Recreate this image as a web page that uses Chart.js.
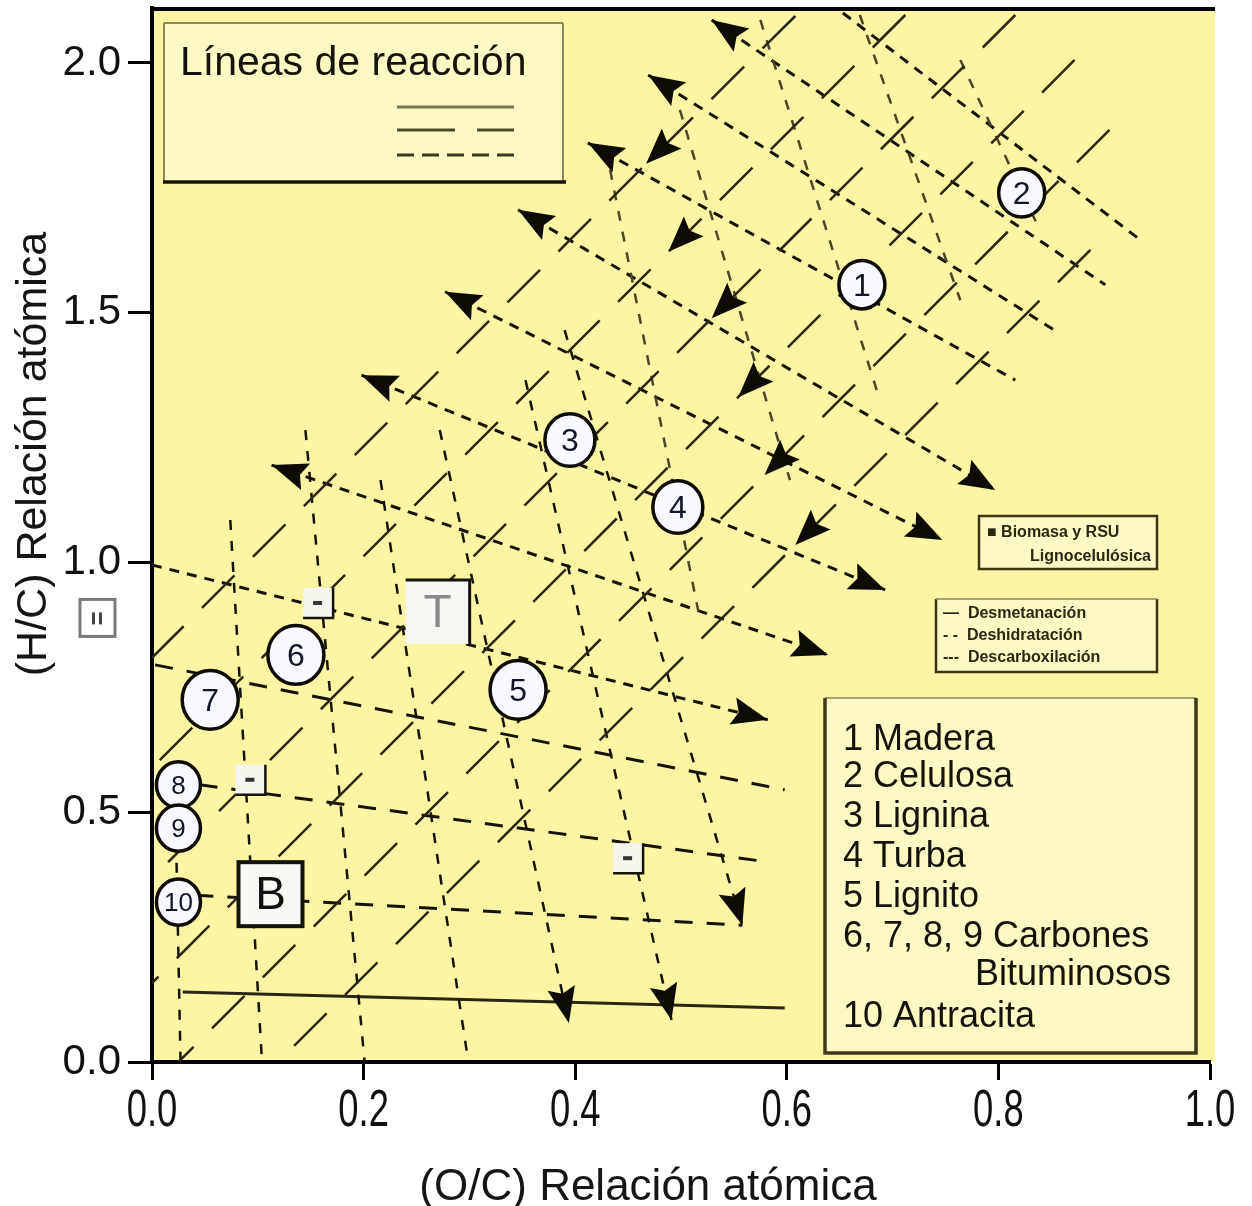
<!DOCTYPE html>
<html>
<head>
<meta charset="utf-8">
<script src="https://cdn.jsdelivr.net/npm/chart.js@4.4.1/dist/chart.umd.min.js"></script>
<style>
  html, body { margin: 0; padding: 0; background: #ffffff; }
  canvas { display: block; }
</style>
</head>
<body>
<canvas id="vk" width="1252" height="1206"></canvas>
<script>
// ── Axis ticks ──
const xTicks = [0, 0.2, 0.4, 0.6, 0.8, 1.0];
const yTicks = [0, 0.5, 1.0, 1.5, 2.0];

// ── Short-dash reaction lines (down-right): [x0, y0, x1, y1] ──
const shortDashLines = [
  [0.653, 2.100, 0.934, 1.646],
  [0.529, 2.086, 0.901, 1.556],
  [0.469, 1.976, 0.853, 1.465],
  [0.412, 1.840, 0.816, 1.365],
  [0.346, 1.706, 0.797, 1.145],
  [0.277, 1.542, 0.747, 1.045],
  [0.198, 1.375, 0.693, 0.945],
  [0.113, 1.195, 0.639, 0.815],
  [0.000, 0.995, 0.582, 0.685],
];
const shortDashArrows = ['none', 'start', 'start', 'start', 'both', 'both', 'both', 'both', 'end'];

// ── Long-dash lines (45°): [xTop, yTop, xArrow, yArrow, xLow, yLow] ──
const longDashLines = [
  [0.608, 2.094, 0.467, 1.798, 0.000, 0.809],
  [0.712, 2.096, 0.488, 1.622, 0.000, 0.589],
  [0.816, 2.096, 0.529, 1.489, 0.000, 0.368],
  [0.872, 2.006, 0.554, 1.331, 0.000, 0.158],
  [0.905, 1.866, 0.579, 1.175, 0.025, 0.000],
  [0.887, 1.626, 0.608, 1.035, 0.119, 0.000],
];

// ── Steep dashed lines: [x0, y0, x1, y1] ──
const steepLines = [
  [0.022, 0.525, 0.027, 0.000],
  [0.074, 1.085, 0.104, 0.000],
  [0.145, 1.265, 0.201, 0.000],
  [0.216, 1.165, 0.299, 0.000],
  [0.272, 1.265, 0.394, 0.078],
  [0.353, 1.365, 0.491, 0.084],
  [0.390, 1.465, 0.558, 0.274],
  [0.433, 1.786, 0.518, 0.885],
  [0.499, 1.906, 0.603, 1.165],
  [0.575, 2.086, 0.688, 1.325],
  [0.669, 2.096, 0.764, 1.525],
  [0.764, 2.006, 0.839, 1.666],
];
const steepArrows = ['none', 'none', 'none', 'none', 'end', 'end', 'end', 'none', 'none', 'none', 'none', 'none'];

// ── Flat lines in the coal region ──
const flatDashLines = [
  [0.003, 0.795, 0.598, 0.545],
  [0.045, 0.555, 0.584, 0.400],
  [0.041, 0.334, 0.558, 0.274],
];
const flatSolidLines = [
  [0.029, 0.140, 0.598, 0.108],
];

// ── Numbered samples ──
const sampleLabels = ['1', '2', '3', '4', '5', '6', '7', '8', '9', '10'];
const sampleX = [0.671, 0.822, 0.395, 0.497, 0.346, 0.136, 0.055, 0.025, 0.025, 0.025];
const sampleY = [1.556, 1.740, 1.245, 1.111, 0.745, 0.815, 0.725, 0.555, 0.468, 0.320];

// ── Boxed markers ──
const boxLabels = ['T', 'B'];
const boxX = [0.270, 0.112];
const boxY = [0.901, 0.336];
const markX = [0.157, 0.093, 0.450];
const markY = [0.919, 0.565, 0.408];

// ── Legend texts ──
const legendTitle = 'Líneas de reacción';
const legendSmall1 = ['■ Biomasa y RSU', 'Lignocelulósica'];
const legendSmall2 = ['—  Desmetanación', '- -  Deshidratación', '---  Descarboxilación'];
const materialNames = ['1 Madera', '2 Celulosa', '3 Lignina', '4 Turba', '5 Lignito',
  '6, 7, 8, 9 Carbones', 'Bituminosos', '10 Antracita'];

// ── Styles ──
const C = {
  plot: '#fcf5a4',
  boxFill: '#fdf9c2',
  ink: '#15140a',
  olive: '#6f6a3c',
  grey: '#8a8658',
};
const SANS = '"Liberation Sans", Arial, sans-serif';

const pts = arr => arr.map(([x, y]) => ({ x, y }));
function pairs(row) {
  const out = [];
  for (let i = 0; i < row.length; i += 2) out.push([row[i], row[i + 1]]);
  return out;
}
function lineSet(row, style, arrow) {
  return {
    data: pts(pairs(row)),
    showLine: true,
    pointRadius: 0,
    pointHoverRadius: 0,
    borderColor: style.color,
    borderWidth: style.width,
    borderDash: style.dash,
    fill: false,
    tension: 0,
    arrow: arrow || 'none',
  };
}

const datasets = [];
longDashLines.forEach(r => datasets.push(lineSet(r, { color: '#2a2812', width: 2.5, dash: [46, 26] }, 'mid')));
steepLines.forEach((r, i) => datasets.push(lineSet(r, { color: i > 6 ? '#4a4626' : C.ink, width: 2.5, dash: [10, 11] }, steepArrows[i])));
flatDashLines.forEach(r => datasets.push(lineSet(r, { color: C.ink, width: 3, dash: [18, 14] })));
flatSolidLines.forEach(r => datasets.push(lineSet(r, { color: '#2a2812', width: 3, dash: [] })));
shortDashLines.forEach((r, i) => datasets.push(lineSet(r, { color: C.ink, width: 3, dash: [10, 8] }, shortDashArrows[i])));

// ── Drawing helpers ──
function arrowHead(ctx, tx, ty, fx, fy) {
  const a = Math.atan2(ty - fy, tx - fx);
  ctx.save();
  ctx.translate(tx, ty);
  ctx.rotate(a);
  ctx.fillStyle = '#0d0c04';
  ctx.beginPath();
  ctx.moveTo(0, 0);
  ctx.lineTo(-36, -14);
  ctx.lineTo(-30, 0);
  ctx.lineTo(-36, 14);
  ctx.closePath();
  ctx.fill();
  ctx.restore();
}
function noPad(s) {
  s.paddingTop = 0; s.paddingBottom = 0; s.paddingLeft = 0; s.paddingRight = 0;
}

const vkPlugin = {
  id: 'vk',
  beforeDraw(chart) {
    const { ctx, chartArea: a } = chart;
    ctx.save();
    ctx.fillStyle = C.plot;
    ctx.fillRect(a.left, a.top, a.right - a.left + 5, a.bottom - a.top);
    ctx.restore();
  },
  afterDatasetsDraw(chart) {
    const { ctx } = chart;
    const xs = chart.scales.x, ys = chart.scales.y;
    const px = v => xs.getPixelForValue(v);
    const py = v => ys.getPixelForValue(v);

    // arrowheads
    chart.data.datasets.forEach((ds, i) => {
      const p = chart.getDatasetMeta(i).data;
      if (ds.arrow === 'start' || ds.arrow === 'both') arrowHead(ctx, p[0].x, p[0].y, p[1].x, p[1].y);
      if (ds.arrow === 'end' || ds.arrow === 'both') {
        const n = p.length;
        arrowHead(ctx, p[n - 1].x, p[n - 1].y, p[n - 2].x, p[n - 2].y);
      }
      if (ds.arrow === 'mid') arrowHead(ctx, p[1].x, p[1].y, p[0].x, p[0].y);
    });

    // legend: reaction lines
    ctx.save();
    ctx.fillStyle = C.boxFill;
    ctx.fillRect(164, 24, 399, 157);
    ctx.strokeStyle = C.grey;
    ctx.lineWidth = 2;
    ctx.beginPath();
    ctx.moveTo(164, 23); ctx.lineTo(563, 23);
    ctx.moveTo(563, 23); ctx.lineTo(563, 182);
    ctx.moveTo(164, 23); ctx.lineTo(164, 182);
    ctx.stroke();
    ctx.strokeStyle = C.ink;
    ctx.lineWidth = 3.5;
    ctx.beginPath(); ctx.moveTo(163, 182); ctx.lineTo(566, 182); ctx.stroke();
    ctx.fillStyle = C.ink;
    ctx.font = '41px ' + SANS;
    ctx.textBaseline = 'alphabetic';
    ctx.fillText(legendTitle, 180, 75);
    const samples = [
      { y: 107, dash: [], color: '#7a7650' },
      { y: 130, dash: [58, 22], color: '#4e4a28' },
      { y: 155, dash: [17, 8], color: '#3a3620' },
    ];
    samples.forEach(s => {
      ctx.strokeStyle = s.color;
      ctx.lineWidth = 3;
      ctx.setLineDash(s.dash);
      ctx.beginPath(); ctx.moveTo(397, s.y); ctx.lineTo(514, s.y); ctx.stroke();
    });
    ctx.setLineDash([]);
    ctx.restore();

    // small legend 1
    ctx.save();
    ctx.fillStyle = C.boxFill;
    ctx.fillRect(979, 516, 178, 53);
    ctx.strokeStyle = '#3a3612';
    ctx.lineWidth = 2.5;
    ctx.strokeRect(979, 516, 178, 53);
    ctx.fillStyle = '#2a2812';
    ctx.font = 'bold 16px ' + SANS;
    ctx.textAlign = 'left';
    ctx.fillText(legendSmall1[0], 987, 537);
    ctx.textAlign = 'right';
    ctx.fillText(legendSmall1[1], 1151, 561);
    ctx.restore();

    // small legend 2
    ctx.save();
    ctx.fillStyle = C.boxFill;
    ctx.fillRect(936, 599, 221, 72);
    ctx.strokeStyle = '#3a3612';
    ctx.lineWidth = 2.5;
    ctx.beginPath();
    ctx.moveTo(936, 599); ctx.lineTo(936, 672); ctx.lineTo(1157, 672); ctx.lineTo(1157, 599);
    ctx.stroke();
    ctx.strokeStyle = C.grey;
    ctx.lineWidth = 1.5;
    ctx.beginPath(); ctx.moveTo(936, 599); ctx.lineTo(1157, 599); ctx.stroke();
    ctx.fillStyle = '#2a2812';
    ctx.font = 'bold 16px ' + SANS;
    legendSmall2.forEach((t, i) => ctx.fillText(t, 943, 618 + i * 22));
    ctx.restore();

    // material legend
    ctx.save();
    ctx.fillStyle = C.boxFill;
    ctx.fillRect(825, 698, 370, 354);
    ctx.strokeStyle = C.grey;
    ctx.lineWidth = 1.5;
    ctx.beginPath(); ctx.moveTo(825, 698); ctx.lineTo(1196, 698); ctx.stroke();
    ctx.strokeStyle = '#3e3a16';
    ctx.lineWidth = 3.5;
    ctx.beginPath();
    ctx.moveTo(825, 698); ctx.lineTo(825, 1053); ctx.lineTo(1196, 1053); ctx.lineTo(1196, 698);
    ctx.stroke();
    ctx.fillStyle = C.ink;
    ctx.font = '36px ' + SANS;
    const rowY = [750, 787, 827, 867, 907, 947, 985, 1027];
    materialNames.forEach((t, i) => ctx.fillText(t, i === 6 ? 975 : 843, rowY[i]));
    ctx.restore();

    // small square markers
    ctx.save();
    markX.forEach((mx, i) => {
      const cx = px(mx), cy = py(markY[i]);
      ctx.fillStyle = '#f6f6ee';
      ctx.fillRect(cx - 15, cy - 15, 30, 30);
      ctx.strokeStyle = C.ink;
      ctx.lineWidth = 2.5;
      ctx.beginPath();
      ctx.moveTo(cx + 15, cy - 15); ctx.lineTo(cx + 15, cy + 15); ctx.lineTo(cx - 15, cy + 15);
      ctx.stroke();
      ctx.fillStyle = '#333';
      ctx.fillRect(cx - 5, cy - 2, 9, 4);
    });
    ctx.restore();

    // boxed letters
    ctx.save();
    boxLabels.forEach((t, i) => {
      const cx = px(boxX[i]), cy = py(boxY[i]);
      ctx.fillStyle = '#f7f7f4';
      ctx.fillRect(cx - 32, cy - 32, 64, 64);
      ctx.strokeStyle = C.ink;
      ctx.lineWidth = i === 1 ? 4 : 3;
      if (i === 1) {
        ctx.strokeRect(cx - 32, cy - 32, 64, 64);
      } else {
        ctx.beginPath();
        ctx.moveTo(cx - 32, cy - 32); ctx.lineTo(cx + 32, cy - 32); ctx.lineTo(cx + 32, cy + 32);
        ctx.stroke();
      }
      ctx.fillStyle = i === 0 ? '#8a8a8a' : '#111';
      ctx.font = '46px ' + SANS;
      ctx.textAlign = 'center';
      ctx.textBaseline = 'middle';
      ctx.fillText(t, cx, cy + 2);
    });
    ctx.restore();

    // numbered circles
    const radius = [23, 23, 25, 25, 28, 28, 28, 22, 22, 22];
    ctx.save();
    sampleLabels.forEach((t, i) => {
      const cx = px(sampleX[i]), cy = py(sampleY[i]);
      const r = radius[i];
      ctx.fillStyle = '#f8f8ff';
      ctx.strokeStyle = '#0d0c04';
      ctx.lineWidth = 3.5;
      ctx.beginPath();
      ctx.ellipse(cx, cy, r, r * 1.05, 0, 0, Math.PI * 2);
      ctx.fill();
      ctx.stroke();
      ctx.fillStyle = '#14142a';
      ctx.font = (i >= 7 ? 26 : 32) + 'px ' + SANS;
      ctx.textAlign = 'center';
      ctx.textBaseline = 'middle';
      ctx.fillText(t, cx, cy + 2);
    });
    ctx.restore();
  },
  afterDraw(chart) {
    const { ctx, chartArea: a } = chart;
    const xs = chart.scales.x, ys = chart.scales.y;
    ctx.save();
    // top frame line
    ctx.strokeStyle = '#000';
    ctx.lineWidth = 4;
    ctx.beginPath(); ctx.moveTo(a.left - 2, a.top + 1); ctx.lineTo(a.right + 5, a.top + 1); ctx.stroke();

    // tick labels: tall narrow on x
    ctx.fillStyle = '#111';
    ctx.textBaseline = 'middle';
    ctx.font = '52px ' + SANS;
    ctx.textAlign = 'center';
    xTicks.forEach(v => {
      ctx.save();
      ctx.translate(xs.getPixelForValue(v), 1112);
      ctx.scale(0.7, 1);
      ctx.fillText(v.toFixed(1), 0, 0);
      ctx.restore();
    });
    ctx.font = '42px ' + SANS;
    ctx.textAlign = 'right';
    yTicks.forEach(v => {
      ctx.fillText(v.toFixed(1), 121, ys.getPixelForValue(v));
    });

    // axis titles
    ctx.fillStyle = '#151515';
    ctx.font = '44px ' + SANS;
    ctx.textAlign = 'center';
    ctx.textBaseline = 'middle';
    ctx.fillText('(O/C) Relación atómica', 648, 1188);

    ctx.translate(34, 454);
    ctx.rotate(-Math.PI / 2);
    ctx.font = '43px ' + SANS;
    ctx.fillText('(H/C) Relación atómica', 0, 0);
    ctx.restore();

    // small icon beside the y axis
    ctx.save();
    const ix = xs.getPixelForValue(-0.052);
    const iy = ys.getPixelForValue(0.890);
    ctx.strokeStyle = '#7a7a7a';
    ctx.lineWidth = 3;
    ctx.strokeRect(ix - 17, iy - 18, 35, 37);
    ctx.fillStyle = '#444';
    ctx.fillRect(ix - 5, iy - 5, 3, 12);
    ctx.fillRect(ix + 2, iy - 5, 3, 12);
    ctx.restore();
  },
};

new Chart(document.getElementById('vk').getContext('2d'), {
  type: 'scatter',
  data: { datasets },
  options: {
    responsive: false,
    animation: false,
    devicePixelRatio: 1,
    events: [],
    layout: { padding: { top: 8, right: 42, left: 0, bottom: 0 } },
    plugins: { legend: { display: false }, tooltip: { enabled: false } },
    scales: {
      x: {
        type: 'linear',
        min: 0,
        max: 1,
        afterFit(s) { s.height = 144; noPad(s); },
        afterBuildTicks(s) { s.ticks = xTicks.map(v => ({ value: v })); },
        ticks: {
          callback: v => Number(v).toFixed(1),
          color: 'rgba(0,0,0,0)',
          font: { family: SANS, size: 30 },
          padding: 10,
          maxRotation: 0,
          autoSkip: false,
        },
        grid: { drawOnChartArea: false, drawTicks: true, tickLength: 18, tickWidth: 3, tickColor: '#000' },
        border: { color: '#000', width: 4 },
      },
      y: {
        type: 'linear',
        min: 0,
        max: 2.11,
        afterFit(s) { s.width = 152; noPad(s); },
        afterBuildTicks(s) { s.ticks = yTicks.map(v => ({ value: v })); },
        ticks: {
          callback: v => Number(v).toFixed(1),
          color: 'rgba(0,0,0,0)',
          font: { family: SANS, size: 30 },
          padding: 4,
          autoSkip: false,
        },
        grid: { drawOnChartArea: false, drawTicks: true, tickLength: 24, tickWidth: 3, tickColor: '#000' },
        border: { color: '#000', width: 4 },
      },
    },
  },
  plugins: [vkPlugin],
});
</script>
</body>
</html>
